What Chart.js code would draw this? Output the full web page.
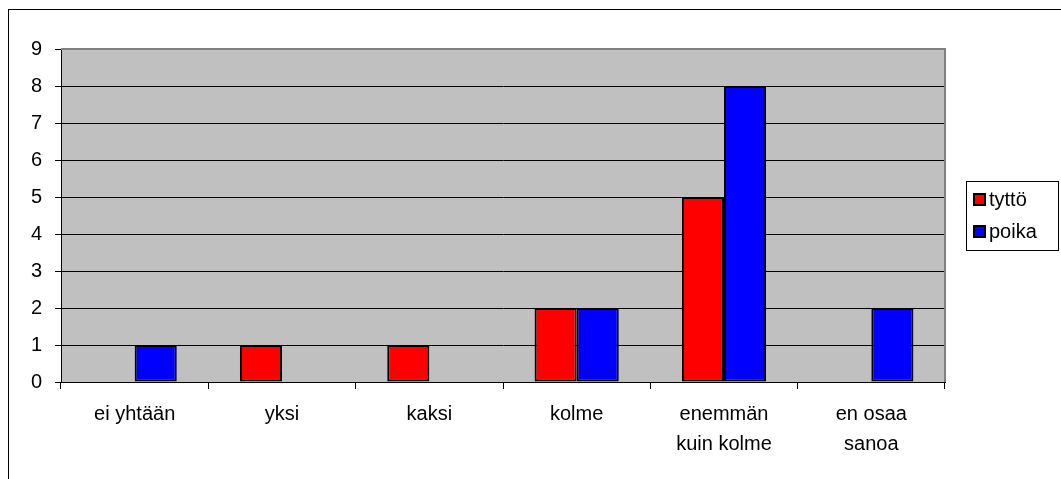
<!DOCTYPE html>
<html>
<head>
<meta charset="utf-8">
<script src="https://cdn.jsdelivr.net/npm/chart.js@4/dist/chart.umd.min.js"></script>
<style>
html,body{margin:0;padding:0;background:#fff;}
#wrap{width:1061px;height:479px;position:relative;}
</style>
</head>
<body>
<div id="wrap"><canvas id="c" width="1061" height="479"></canvas></div>
<script>
const categories = ['ei yhtään', 'yksi', 'kaksi', 'kolme', ['enemmän', 'kuin kolme'], ['en osaa', 'sanoa']];
const seriesNames = ['tyttö', 'poika'];
const tytto = [0, 1, 1, 2, 5, 0];
const poika = [1, 0, 0, 2, 8, 2];
const yTicks = [0, 1, 2, 3, 4, 5, 6, 7, 8, 9];
const colors = ['#FF0000', '#0000FF'];

const FONT = '"Liberation Sans", Arial, sans-serif';

const framePlugin = {
  id: 'frame',
  beforeDraw(chart) {
    const ctx = chart.ctx;
    const a = chart.chartArea;
    ctx.save();
    ctx.fillStyle = '#fff';
    ctx.fillRect(0, 0, chart.width, chart.height);
    ctx.strokeStyle = '#000';
    ctx.lineWidth = 1;
    ctx.strokeRect(8.5, 9.5, chart.width + 20, chart.height + 20);
    ctx.fillStyle = '#C0C0C0';
    ctx.fillRect(a.left, a.top, a.right - a.left, a.bottom - a.top);
    ctx.restore();
  },
  afterDatasetsDraw(chart) {
    const ctx = chart.ctx;
    const a = chart.chartArea;
    ctx.save();
    ctx.strokeStyle = '#808080';
    ctx.lineWidth = 2;
    ctx.beginPath();
    ctx.moveTo(a.left, a.top);
    ctx.lineTo(a.right, a.top);
    ctx.lineTo(a.right, a.bottom);
    ctx.stroke();
    ctx.restore();
  },
  afterDraw(chart) {
    const ctx = chart.ctx;
    ctx.save();
    ctx.strokeStyle = '#000';
    ctx.lineWidth = 1;
    ctx.strokeRect(966.5, 181.5, 92, 69);
    ctx.font = '20px ' + FONT;
    ctx.textBaseline = 'middle';
    ctx.textAlign = 'left';
    const ys = [199, 231];
    chart.data.datasets.forEach((ds, i) => {
      ctx.fillStyle = ds.backgroundColor;
      ctx.fillRect(974, ys[i] - 5, 11, 11);
      ctx.strokeStyle = '#000';
      ctx.lineWidth = 2;
      ctx.strokeRect(974, ys[i] - 5, 11, 11);
      ctx.fillStyle = '#000';
      ctx.fillText(ds.label, 989, ys[i] + 1);
    });
    ctx.restore();
  }
};

new Chart(document.getElementById('c'), {
  type: 'bar',
  data: {
    labels: categories,
    datasets: [
      { label: seriesNames[0], data: tytto, backgroundColor: colors[0] },
      { label: seriesNames[1], data: poika, backgroundColor: colors[1] }
    ].map(d => Object.assign(d, {
      borderColor: '#000',
      borderWidth: ctx => (ctx.raw === 0 ? 0 : 2),
      borderSkipped: false,
      categoryPercentage: 2 / 3.5,
      barPercentage: 1
    }))
  },
  options: {
    responsive: false,
    animation: false,
    devicePixelRatio: 1,
    layout: { padding: { left: 0, top: 49, right: 116, bottom: 0 } },
    plugins: { legend: { display: false }, tooltip: { enabled: false } },
    scales: {
      x: {
        afterFit(s) { s.height = 97; },
        grid: { offset: true, drawOnChartArea: false, color: '#000', tickLength: 7, tickColor: '#000' },
        border: { display: true, color: '#000', width: 1 },
        ticks: { color: '#000', font: { family: FONT, size: 20, lineHeight: 1.5 }, padding: 10, maxRotation: 0, autoSkip: false }
      },
      y: {
        min: 0, max: 9,
        afterFit(s) { s.width = 61; },
        afterBuildTicks(s) { s.ticks = yTicks.map(v => ({ value: v })); },
        grid: { color: '#000', lineWidth: 1, tickLength: 6, tickColor: '#000' },
        border: { display: true, color: '#000', width: 1 },
        ticks: { color: '#000', font: { family: FONT, size: 20 }, padding: 13, stepSize: 1 }
      }
    }
  },
  plugins: [framePlugin]
});
</script>
</body>
</html>
